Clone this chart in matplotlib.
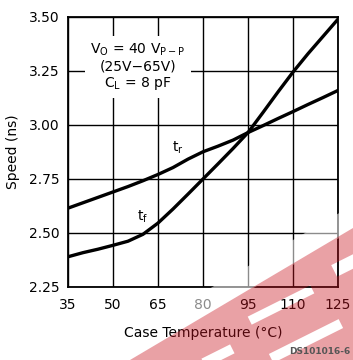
import numpy as np
import matplotlib
matplotlib.use("Agg")
import matplotlib.pyplot as plt
from matplotlib.path import Path
from matplotlib.patches import PathPatch, Polygon

# Case temperature (°C) and switching speed (ns)
temperature = [35, 40, 45, 50, 55, 60, 65, 70, 75, 80, 85, 90, 95,
               100, 105, 110, 115, 120, 125]
t_rise = [2.615, 2.64, 2.665, 2.69, 2.715, 2.742, 2.771, 2.803, 2.842, 2.876,
          2.902, 2.93, 2.965, 2.997, 3.03, 3.062, 3.095, 3.127, 3.16]
t_fall = [2.39, 2.409, 2.425, 2.443, 2.462, 2.494, 2.546, 2.611, 2.68, 2.75,
          2.82, 2.891, 2.965, 3.058, 3.153, 3.245, 3.33, 3.41, 3.49]

x_ticks = [35, 50, 65, 80, 95, 110, 125]
y_ticks = [2.25, 2.50, 2.75, 3.00, 3.25, 3.50]

W, H = 353, 360
fig = plt.figure(figsize=(W / 100, H / 100), dpi=100)
ax = fig.add_axes([68 / W, 73 / H, 270 / W, 270 / H])

ax.set_xlim(35, 125)
ax.set_ylim(2.25, 3.50)
ax.set_xticks(x_ticks)
ax.set_yticks(y_ticks)
ax.set_xticklabels([str(v) for v in x_ticks])
ax.set_yticklabels([f"{v:.2f}" for v in y_ticks])
ax.tick_params(length=0, labelsize=10, colors="black")
ax.tick_params(axis="x", pad=8)
ax.tick_params(axis="y", pad=6)
ax.grid(True, color="black", linewidth=1.0)
ax.set_axisbelow(True)
for s in ax.spines.values():
    s.set_linewidth(1.3)
    s.set_color("black")

ax.plot(temperature, t_rise, color="black", linewidth=2.4, zorder=3,
        solid_joinstyle="round")
ax.plot(temperature, t_fall, color="black", linewidth=2.4, zorder=3,
        solid_joinstyle="round")

ax.text(71.7, 2.895, r"t$_\mathrm{r}$", fontsize=10, ha="center", va="center", zorder=4)
ax.text(60.0, 2.575, r"t$_\mathrm{f}$", fontsize=10, ha="center", va="center", zorder=4)

ax.text(58.3, 3.27,
        "V$_\\mathrm{O}$ = 40 V$_\\mathrm{P-P}$\n(25V\u221265V)\nC$_\\mathrm{L}$ = 8 pF",
        fontsize=10, ha="center", va="center", multialignment="center",
        linespacing=1.15, zorder=2,
        bbox=dict(facecolor="white", edgecolor="none", pad=4))

ax.set_xlabel("Case Temperature (\u00b0C)", fontsize=10)
ax.set_ylabel("Speed (ns)", fontsize=10)
ax.xaxis.set_label_coords(0.5, -0.145)
ax.yaxis.set_label_coords(-0.178, 0.5)

# Pink stamp across the lower right corner, with white bars cut out of it
def to_fig(pts):
    return [(x / W, 1 - y / H) for x, y in pts]

def bar(cx, cy, length, thick):
    d = np.array([0.894, -0.447])
    n = np.array([0.447, 0.894])
    c = np.array([cx, cy])
    pts = [c - d * length / 2 - n * thick / 2,
           c + d * length / 2 - n * thick / 2,
           c + d * length / 2 + n * thick / 2,
           c - d * length / 2 + n * thick / 2]
    return to_fig([tuple(p) for p in pts])

def signed_area(pts):
    a = 0.0
    for i in range(len(pts)):
        x1, y1 = pts[i]
        x2, y2 = pts[(i + 1) % len(pts)]
        a += x1 * y2 - x2 * y1
    return a / 2

outer = [(-0.1, -0.1), (1.1, -0.1), (1.1, 1.1), (-0.1, 1.1)]
holes = [bar(281, 305, 70, 9), bar(306, 341, 78, 10),
         bar(352, 262, 40, 13), bar(218, 356, 32, 10)]
verts, codes = [], []
for poly, sign in [(outer, 1)] + [(h, -1) for h in holes]:
    if np.sign(signed_area(poly)) != sign:
        poly = poly[::-1]
    verts += poly + [poly[0]]
    codes += [Path.MOVETO] + [Path.LINETO] * (len(poly) - 1) + [Path.CLOSEPOLY]

tri = Polygon(to_fig([(130, 360), (353, 228), (353, 360)]), closed=True,
              transform=fig.transFigure)
haze = Polygon(to_fig([(185, 328), (353, 230), (353, 205), (185, 303)]), closed=True,
               transform=fig.transFigure, facecolor="white", edgecolor="none",
               alpha=0.55, zorder=5)
fig.add_artist(haze)
stamp = PathPatch(Path(verts, codes), transform=fig.transFigure,
                  facecolor=(200 / 255, 20 / 255, 32 / 255), edgecolor="none",
                  alpha=0.4, zorder=6)
stamp.set_clip_path(tri)
fig.add_artist(stamp)

fig.text(350 / W, 1 - 351 / H, "DS101016-6", fontsize=6.5, fontweight="bold",
         color="#555555", ha="right", va="center", zorder=7)

fig.savefig("out.png", dpi=100, facecolor="white")
